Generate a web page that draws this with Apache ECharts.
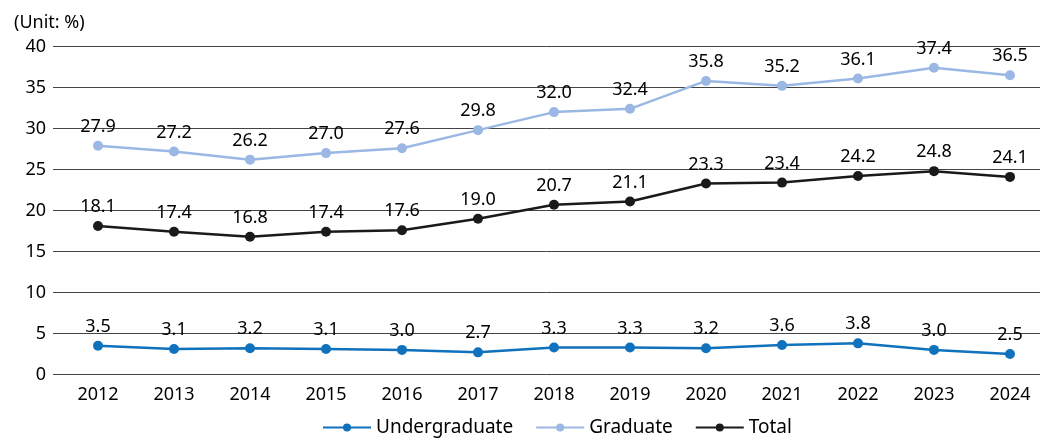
<!DOCTYPE html>
<html>
<head>
<meta charset="utf-8">
<script src="https://cdn.jsdelivr.net/npm/echarts@6/dist/echarts.min.js"></script>
<style>
html,body{margin:0;padding:0;background:#fff;}
#chart{width:1043px;height:439px;}
</style>
</head>
<body>
<div id="chart"></div>
<script>
const years = ['2012','2013','2014','2015','2016','2017','2018','2019','2020','2021','2022','2023','2024'];
const undergraduate = [3.5,3.1,3.2,3.1,3.0,2.7,3.3,3.3,3.2,3.6,3.8,3.0,2.5];
const graduate = [27.9,27.2,26.2,27.0,27.6,29.8,32.0,32.4,35.8,35.2,36.1,37.4,36.5];
const total = [18.1,17.4,16.8,17.4,17.6,19.0,20.7,21.1,23.3,23.4,24.2,24.8,24.1];
const seriesNames = ['Undergraduate','Graduate','Total'];
const colors = ['#1071bd','#9ab8e3','#1a1a1a'];

const FONT = '"Noto Sans", sans-serif';
const chart = echarts.init(document.getElementById('chart'), null, {renderer:'canvas'});

function mk(name, data, color, z){
  return {
    name: name, type: 'line', data: data, xAxisIndex: 1, yAxisIndex: 1,
    symbol: 'circle', symbolSize: 10, z: z,
    lineStyle: {color: color, width: 2.5},
    itemStyle: {color: color},
    label: {show: true, position: 'top', distance: 5, color: '#000', fontSize: 18, fontFamily: FONT,
      formatter: p => p.value.toFixed(1)},
    emphasis: {disabled: true}
  };
}

chart.setOption({
  animation: false,
  textStyle: {fontFamily: FONT},
  title: {text: '(Unit: %)', left: 9, top: 9, textStyle: {fontSize: 18, fontWeight: 'normal', color: '#000', fontFamily: FONT}},
  legend: {
    top: 413, left: 317, itemWidth: 48, itemHeight: 10, itemGap: 22,
    data: seriesNames,
    textStyle: {fontSize: 19, color: '#000', fontFamily: FONT}
  },
  grid: [
    {left: 53, right: 3, top: 46.5, bottom: 64.5},
    {left: 98, right: 33, top: 46.5, bottom: 64.5}
  ],
  xAxis: [
    {gridIndex: 0, type: 'category', data: years, show: false},
    {gridIndex: 1, type: 'category', data: years, boundaryGap: false,
      axisLine: {show: false}, axisTick: {show: false}, splitLine: {show: false},
      axisLabel: {fontSize: 18, color: '#000', margin: 11, fontFamily: FONT}}
  ],
  yAxis: [
    {gridIndex: 0, type: 'value', min: 0, max: 40, interval: 5,
      axisLine: {show: false}, axisTick: {show: false},
      splitLine: {lineStyle: {color: '#444', width: 1}},
      axisLabel: {fontSize: 18, color: '#000', margin: 7, fontFamily: FONT}},
    {gridIndex: 1, type: 'value', min: 0, max: 40, interval: 5, show: false}
  ],
  series: [
    mk(seriesNames[0], undergraduate, colors[0], 3),
    mk(seriesNames[1], graduate, colors[1], 2),
    mk(seriesNames[2], total, colors[2], 4)
  ]
});
</script>
</body>
</html>
